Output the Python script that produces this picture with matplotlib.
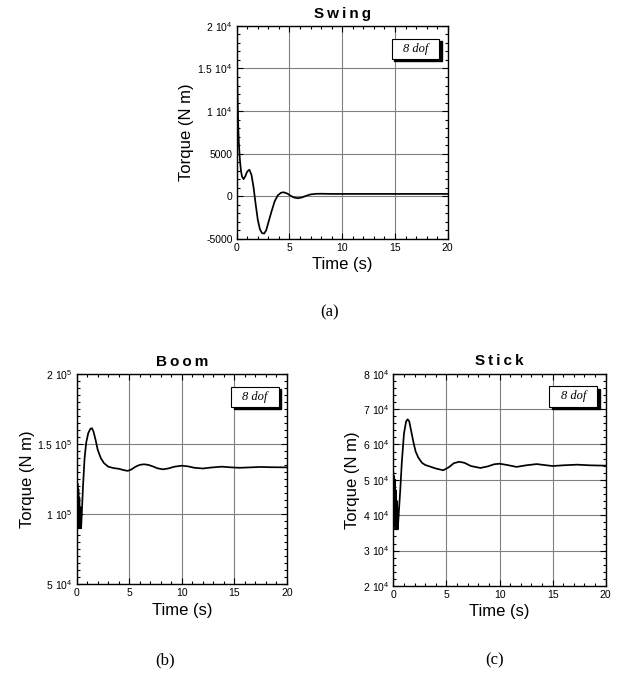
import matplotlib
matplotlib.use("Agg")
import matplotlib.pyplot as plt
from matplotlib.ticker import FixedLocator, MultipleLocator
from matplotlib.patches import Rectangle

plt.rcParams['font.family'] = ['Liberation Sans', 'DejaVu Sans']
plt.rcParams['mathtext.fontset'] = 'custom'
plt.rcParams['mathtext.rm'] = 'Liberation Sans'

# ---------------- data ----------------
swing_t = [0.0, 0.03, 0.06, 0.1, 0.15, 0.2, 0.3, 0.4, 0.5, 0.65, 0.8, 1.0, 1.2, 1.4, 1.6,
           1.8, 2.0, 2.2, 2.4, 2.6, 2.8, 3.0, 3.3, 3.6, 3.9, 4.2, 4.45, 4.8, 5.1, 5.4,
           5.8, 6.2, 6.6, 7.0, 7.5, 8.0, 9.0, 10.0, 12.0, 15.0, 20.0]
swing_v = [19500, 16000, 13000, 10500, 8000, 6300, 4300, 3000, 2300, 2000, 2300, 2900, 3100, 2500, 1000,
           -1000, -2800, -3900, -4350, -4400, -4000, -3100, -1800, -600, 100, 400, 450, 300, 50, -150,
           -250, -150, 50, 200, 270, 280, 260, 260, 260, 260, 260]

boom_t = [0.0, 0.04, 0.08, 0.12, 0.16, 0.2, 0.25, 0.3, 0.35, 0.42, 0.5, 0.6, 0.75, 0.9, 1.1,
          1.3, 1.45, 1.6, 1.8, 2.0, 2.3, 2.6, 3.0, 3.5, 4.0, 4.5, 4.85, 5.2, 5.6, 6.0,
          6.4, 6.8, 7.2, 7.7, 8.2, 8.7, 9.3, 10.0, 10.6, 11.2, 12.0, 12.8, 13.8, 14.7, 15.5,
          16.5, 17.5, 18.5, 20.0]
boom_v = [120000, 95000, 122000, 92000, 118000, 90000, 112000, 90000, 105000, 90000, 103000, 120000, 140000, 151000, 158000,
          161000, 161500, 159000, 153000, 146000, 140000, 136500, 134000, 133000, 132500, 131500, 131000, 132000, 134000, 135300,
          135700, 135300, 134300, 132800, 132100, 132700, 134000, 134700, 134200, 133200, 132700, 133400, 134000, 133500, 133200,
          133500, 133800, 133600, 133500]

stick_t = [0.0, 0.04, 0.08, 0.12, 0.16, 0.2, 0.25, 0.3, 0.35, 0.42, 0.5, 0.65, 0.8, 1.0, 1.2,
           1.35, 1.5, 1.7, 1.9, 2.1, 2.35, 2.7, 3.0, 3.5, 4.0, 4.7, 5.2, 5.7, 6.2, 6.7,
           7.3, 8.2, 8.9, 9.5, 10.0, 10.7, 11.6, 12.5, 13.5, 14.3, 15.0, 16.0, 17.3, 18.5, 20.0]
stick_v = [52000, 38000, 51000, 37000, 50000, 36000, 47000, 36000, 44000, 36000, 40000, 47000, 55000, 63000, 66500,
           67100, 66500, 63500, 60500, 58000, 56300, 54800, 54200, 53700, 53200, 52700, 53500, 54700, 55100, 54800,
           53900, 53350, 53800, 54400, 54550, 54200, 53650, 54100, 54450, 54150, 53900, 54100, 54280, 54100, 54000]

titles = ["Swing", "Boom", "Stick"]
captions = ["(a)", "(b)", "(c)"]
box_label = "8 dof"
x_label = "Time (s)"
y_label = "Torque (N m)"
swing_yticks = [-5000, 0, 5000, 10000, 15000, 20000]
swing_ylabels = ["-5000", "0", "5000", r"$\mathregular{1\ 10^{4}}$", r"$\mathregular{1.5\ 10^{4}}$", r"$\mathregular{2\ 10^{4}}$"]
boom_yticks = [50000, 100000, 150000, 200000]
boom_ylabels = [r"$\mathregular{5\ 10^{4}}$", r"$\mathregular{1\ 10^{5}}$", r"$\mathregular{1.5\ 10^{5}}$", r"$\mathregular{2\ 10^{5}}$"]
stick_yticks = [20000, 30000, 40000, 50000, 60000, 70000, 80000]
stick_ylabels = [r"$\mathregular{%d\ 10^{4}}$" % k for k in range(2, 9)]
xticks = [0, 5, 10, 15, 20]

fig = plt.figure(figsize=(6.2, 6.79), dpi=100)

def make_axes(rect, t, v, title, yticks, ylabels, yminor, caption, cap_xy):
    ax = fig.add_axes(rect)
    ax.plot(t, v, color='black', lw=1.25, solid_joinstyle='round')
    ax.set_xlim(0, 20)
    ax.set_ylim(yticks[0], yticks[-1])
    ax.xaxis.set_major_locator(FixedLocator(xticks))
    ax.xaxis.set_minor_locator(MultipleLocator(1))
    ax.yaxis.set_major_locator(FixedLocator(yticks))
    ax.set_yticklabels(ylabels)
    ax.yaxis.set_minor_locator(MultipleLocator(yminor))
    ax.tick_params(which='both', direction='in', top=True, right=True, labelsize=7.5, width=0.8, pad=3)
    ax.tick_params(which='major', length=4)
    ax.tick_params(which='minor', length=2.5)
    ax.grid(True, which='major', color='#808080', lw=0.8)
    for s in ax.spines.values():
        s.set_linewidth(1.0)
    ax.set_xlabel(x_label, fontsize=12, labelpad=3)
    ax.set_ylabel(y_label, fontsize=12, labelpad=2)
    ax.set_title('\u2009'.join(title), fontsize=11, fontweight='bold', pad=6)
    # "8 dof" box with shadow
    bx, by, bw, bh = 0.735, 0.845, 0.225, 0.095
    ax.add_patch(Rectangle((bx + 0.012, by - 0.012), bw, bh, transform=ax.transAxes,
                           facecolor='black', edgecolor='black', zorder=5))
    ax.add_patch(Rectangle((bx, by), bw, bh, transform=ax.transAxes,
                           facecolor='white', edgecolor='black', lw=0.8, zorder=6))
    ax.text(bx + bw / 2, by + bh / 2, box_label, transform=ax.transAxes, ha='center', va='center',
            family='Liberation Serif', style='italic', fontsize=9, zorder=7)
    fig.text(cap_xy[0], cap_xy[1], caption, ha='center', va='center',
             family='Liberation Serif', fontsize=12)
    return ax

make_axes([0.3818, 0.6485, 0.3403, 0.3133], swing_t, swing_v, titles[0],
          swing_yticks, swing_ylabels, 1000, captions[0], (330 / 620, 1 - 312 / 679))
make_axes([0.1237, 0.1395, 0.3392, 0.3093], boom_t, boom_v, titles[1],
          boom_yticks, boom_ylabels, 5000, captions[1], (165 / 620, 1 - 660 / 679))
make_axes([0.6344, 0.137, 0.3426, 0.3127], stick_t, stick_v, titles[2],
          stick_yticks, stick_ylabels, 2000, captions[2], (495 / 620, 1 - 660 / 679))

fig.savefig("out.png", dpi=100)
